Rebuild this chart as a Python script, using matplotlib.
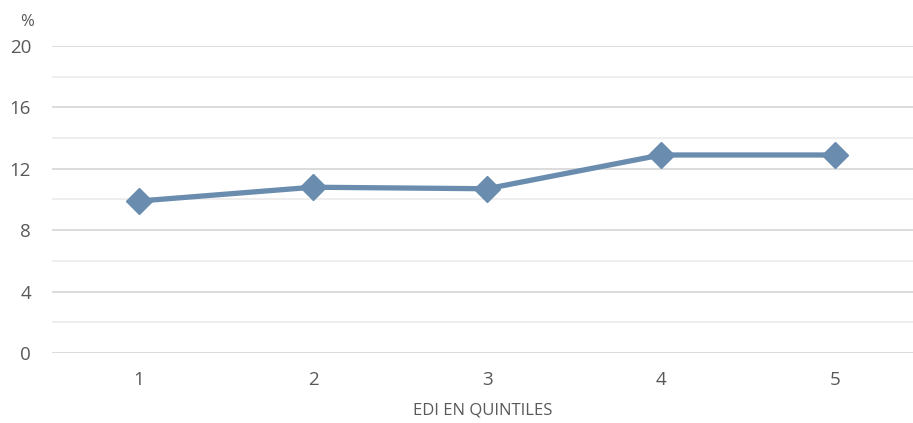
import matplotlib.pyplot as plt
import numpy as np

quintiles = [1, 2, 3, 4, 5]
tick_labels = ['1', '2', '3', '4', '5']
values = [9.9, 10.8, 10.7, 12.9, 12.9]

plt.rcParams['font.family'] = ['Open Sans', 'DejaVu Sans']
grey = '#595959'

fig = plt.figure(figsize=(9.13, 4.23), dpi=100)
ax = fig.add_axes([52 / 913, 1 - 353 / 423, 1 - 52 / 913, (353 - 46) / 423])

# gridlines: major every 4, minor every 2
for y in np.arange(0, 21, 2):
    if y % 4 == 0:
        ax.axhline(y, color='#d9d9d9', lw=1.3, zorder=1)
    else:
        ax.axhline(y, color='#ededed', lw=1.3, zorder=1)

ax.plot(quintiles, values, color='#6A8DAF', lw=3.8, marker='D', ms=13.5,
        zorder=3, clip_on=False)

ax.set_xlim(0.5, 0.5 + 861 / 174)
ax.set_ylim(0, 20)
ax.set_yticks([0, 4, 8, 12, 16, 20])
ax.set_xticks(quintiles)
ax.set_xticklabels(tick_labels)
ax.tick_params(length=0, labelsize=13.5, colors=grey)
ax.tick_params(axis='y', pad=15)
ax.tick_params(axis='x', pad=13)
for s in ax.spines.values():
    s.set_visible(False)

ax.set_xlabel('EDI EN QUINTILES', fontsize=12, color=grey, labelpad=10)
fig.text(27 / 913, 1 - 22 / 423, '%', fontsize=12, color=grey, ha='center', va='center')

fig.savefig('out.png', dpi=100)
